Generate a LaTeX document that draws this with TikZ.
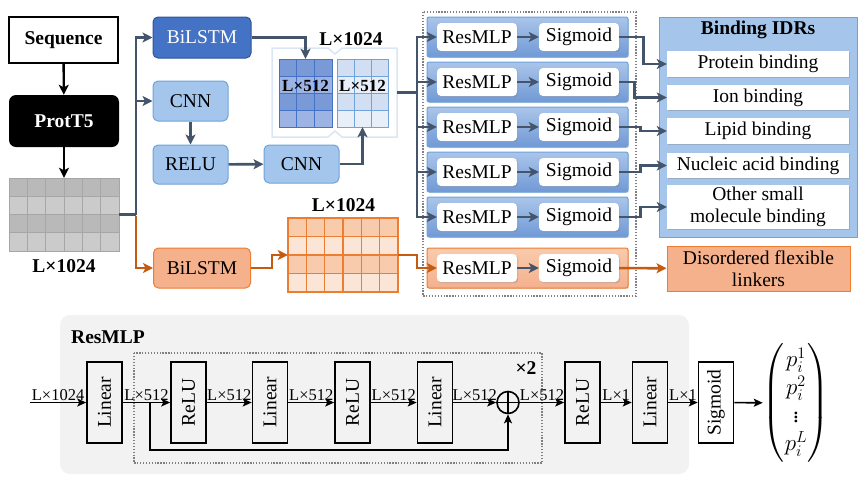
\RequirePackage{fix-cm}
\documentclass[tikz,border=0pt]{standalone}
\usepackage{fontspec}
\setmainfont{Liberation Serif}
\usepackage{amsmath}
\usetikzlibrary{arrows.meta,positioning,shadows}

\definecolor{slate}{HTML}{44546A}
\definecolor{burnt}{HTML}{C55A11}
\definecolor{bluedark}{HTML}{4472C4}
\definecolor{bluedarkline}{HTML}{2F5597}
\definecolor{bluelight}{HTML}{A4C6EC}
\definecolor{bluelightline}{HTML}{6FA3DA}
\definecolor{orangefill}{HTML}{F5B08C}
\definecolor{orangeline}{HTML}{ED7D31}
\definecolor{paneltop}{HTML}{AAC5EA}
\definecolor{panelbot}{HTML}{7099D5}
\definecolor{bindfill}{HTML}{A6C5EA}
\definecolor{gridA}{HTML}{B9B9B9}
\definecolor{gridB}{HTML}{CBCBCB}
\definecolor{gridline}{HTML}{A6A6A6}
\definecolor{dmatA}{HTML}{7A99D7}
\definecolor{dmatB}{HTML}{9CB3E3}
\definecolor{lmatA}{HTML}{D2DEF1}
\definecolor{lmatB}{HTML}{E9EFF8}
\definecolor{omatA}{HTML}{F8CBAD}
\definecolor{omatB}{HTML}{FBE5D6}
\definecolor{framecol}{HTML}{DAE6F5}
\definecolor{panelgrey}{HTML}{F2F2F2}

\tikzset{
  txt/.style={font=\fontsize{19.5}{22}\selectfont},
  bold/.style={font=\fontsize{19.5}{22}\selectfont\bfseries},
  darr/.style={line width=2.6pt, draw=slate, -{Stealth[length=10pt,width=10pt,inset=2.5pt]}},
  dline/.style={line width=2.6pt, draw=slate},
  oarr/.style={line width=2.6pt, draw=burnt, -{Stealth[length=10pt,width=10pt,inset=2.5pt]}},
  oline/.style={line width=2.6pt, draw=burnt},
  karr/.style={line width=2.4pt, draw=black, -{Stealth[length=10pt,width=10pt,inset=2.5pt]}},
  barr/.style={line width=1.6pt, draw=black, -{Stealth[length=9pt,width=8pt,inset=2pt]}},
  softbox/.style={txt, rounded corners=5pt, inner sep=0, line width=1pt,
    fill=bluelight, draw=bluelightline},
  whitebox/.style={txt, rounded corners=4pt, inner sep=0, fill=white,
    minimum width=80, minimum height=28,
    drop shadow={shadow xshift=1.2pt, shadow yshift=-1.2pt, opacity=.35}},
  rowpanel/.style={rounded corners=2pt, line width=1pt, draw=bluelightline,
    top color=paneltop, bottom color=panelbot, minimum width=201, minimum height=40,
    drop shadow={shadow xshift=1pt, shadow yshift=-1pt, opacity=.25}},
  labbox/.style={txt, fill=white, inner sep=0, minimum width=182, align=center,
    drop shadow={shadow xshift=1.2pt, shadow yshift=-1.2pt, opacity=.35}},
  vbox/.style={txt, draw, line width=1.6pt, rotate=90, minimum width=81,
    minimum height=35, inner sep=0},
  dimlab/.style={above, inner sep=1.5pt, font=\fontsize{16.5}{18}\selectfont},
  dotbox/.style={draw=gray, line width=1.3pt, dash pattern=on 1.3pt off 1.6pt},
}

\begin{document}
\begin{tikzpicture}[x=1pt, y=-1pt]
  \useasboundingbox (0,0) rectangle (866,483);

  % ---- input side
  \node[bold, draw, line width=1.6pt, fill=white, minimum width=109, minimum height=46, inner sep=0] (seq) at (63.5,40) {Sequence};
  \node[bold, text=white, fill=black, rounded corners=7pt, minimum width=110, minimum height=52, inner sep=0] (prot) at (64,121) {ProtT5};
  \node[minimum width=110, minimum height=73, inner sep=0] (emb) at (64,214.5) {};
  \foreach \r/\col in {0/gridA,1/gridB,2/gridA,3/gridB}
    \foreach \c in {0,...,5}
      \filldraw[fill=\col, draw=gridline, line width=1pt] (9+\c*18.333,178+\r*18.25) rectangle ++(18.333,18.25);
  \node[bold, below=5pt of emb] (embl) {L×1024};
  \draw[karr] (seq) -- (prot);
  \draw[karr] (prot) -- (emb);

  % ---- three branches
  \node[txt, text=white, fill=bluedark, draw=bluedarkline, line width=1pt, rounded corners=5pt, minimum width=98, minimum height=41, inner sep=0] (bilstm) at (202,37.5) {BiLSTM};
  \node[softbox, minimum width=75, minimum height=40] (cnn1) at (190.5,101) {CNN};
  \node[softbox, minimum width=75, minimum height=39] (relu) at (190.5,164.5) {RELU};
  \node[softbox, minimum width=75, minimum height=38] (cnn2) at (301.5,164) {CNN};
  \node[txt, fill=orangefill, draw=orangeline, line width=1pt, rounded corners=5pt, minimum width=97, minimum height=40, inner sep=0] (obilstm) at (202,268) {BiLSTM};

  \coordinate (split) at (136,214.5);
  \draw[dline] (emb) -- (split);
  \draw[darr] (split) |- (bilstm);
  \draw[darr] (split) |- (cnn1);
  \draw[oarr] ([yshift=-1.3pt]split) |- (obilstm);
  \draw[darr] (cnn1) -- (relu);
  \draw[darr] (relu) -- (cnn2);

  % ---- concatenated features
  \draw[draw=framecol, line width=1.5pt, fill=white] (272,48) -- (328,48) -- (335,54) -- (342,48) -- (397,48)
    -- (397,137) -- (342,137) -- (335,131) -- (328,137) -- (272,137) -- cycle;
  \node[minimum width=125, minimum height=89, inner sep=0] (frame) at (334.5,92.5) {};
  \node[minimum width=53, minimum height=68, inner sep=0] (dmat) at (305.5,93) {};
  \node[minimum width=51, minimum height=68, inner sep=0] (lmat) at (362.5,93) {};
  \foreach \r/\col in {0/dmatA,1/dmatB,2/dmatA,3/dmatB}
    \foreach \c in {0,1,2}
      \filldraw[fill=\col, draw=bluedark, line width=1pt] (279+\c*17.667,59+\r*17) rectangle ++(17.667,17);
  \foreach \r/\col in {0/lmatA,1/lmatB,2/lmatA,3/lmatB}
    \foreach \c in {0,1,2}
      \filldraw[fill=\col, draw=bluelightline, line width=1pt] (337+\c*17,59+\r*17) rectangle ++(17,17);
  \node[font=\fontsize{17}{20}\selectfont\bfseries] (dlab) at (305.5,85.5) {L×512};
  \node[font=\fontsize{17}{20}\selectfont\bfseries] (llab) at (362.5,85.5) {L×512};
  \node[bold] (catl) at (351,39) {L×1024};
  \draw[darr] (bilstm) -| (dmat.north);
  \draw[darr] (cnn2) -| (lmat.south);

  % ---- orange feature map
  \node[minimum width=110, minimum height=74, inner sep=0] (omat) at (343,255) {};
  \foreach \r/\col in {0/omatA,1/omatB,2/omatA,3/omatB}
    \foreach \c in {0,...,5}
      \filldraw[fill=\col, draw=orangeline, line width=1.6pt] (288+\c*18.333,218+\r*18.5) rectangle ++(18.333,18.5);
  \node[bold] (omatl) at (343.5,205) {L×1024};
  \draw[oarr] (obilstm) -- (272,268) |- (omat.west);

  % ---- prediction heads
  \draw[dotbox] (423,12) rectangle (636,296);
  \coordinate (split2) at (417,92.5);
  \draw[dline] (frame) -- (split2);
  \foreach \i/\y in {1/37,2/82,3/127,4/172,5/217} {
    \node[rowpanel] (row\i) at (527.5,\y) {};
    \node[whitebox] (res\i) at (477,\y) {ResMLP};
    \node[whitebox] (sig\i) at (579,\y) {Sigmoid};
    \draw[darr] (res\i) -- (sig\i);
    \draw[darr] (split2) |- (res\i);
  }
  \node[rowpanel, top color=omatA, bottom color=orangefill, draw=orangeline] (row6) at (527.5,268) {};
  \node[whitebox] (res6) at (477,268) {ResMLP};
  \node[whitebox] (sig6) at (579,268) {Sigmoid};
  \draw[darr] (res6) -- (sig6);
  \draw[oarr] (omat) -- (417,255) |- (res6);

  % ---- outputs
  \node[fill=bindfill, draw=bluelightline, line width=1pt, minimum width=198, minimum height=220, inner sep=0] (bind) at (758,127) {};
  \node[bold] (bindt) at (758,30) {Binding IDRs};
  \node[labbox, minimum height=26] (lab1) at (758,64) {Protein binding};
  \node[labbox, minimum height=25] (lab2) at (758,97.5) {Ion binding};
  \node[labbox, minimum height=26] (lab3) at (758,131) {Lipid binding};
  \node[labbox, minimum height=25] (lab4) at (758,165.5) {Nucleic acid binding};
  \node[labbox, minimum height=44] (lab5) at (758,207) {Other small\\molecule binding};
  \node[txt, fill=orangefill, draw=orangeline, line width=1pt, minimum width=183, minimum height=45, inner sep=0, align=center] (link) at (758.5,268.5) {Disordered flexible\\linkers};
  \foreach \i/\dx in {1/24,2/15,3/21,4/21,5/21}
    \draw[darr] (sig\i.east) -- ++(\dx,0) |- (lab\i);
  \draw[oarr] (sig6) -- (link);

  % ---- ResMLP block
  \fill[panelgrey, rounded corners=10pt] (60,315) rectangle (689,474);
  \node[bold] (restitle) at (108,337) {ResMLP};
  \draw[dotbox] (134,353) rectangle (542,463);
  \node[bold] (rep) at (526,368) {×2};

  \node[vbox] (lin1) at (104.5,402.5) {Linear};
  \node[vbox] (relu1) at (188.5,402.5) {ReLU};
  \node[vbox] (lin2) at (270,402.5) {Linear};
  \node[vbox] (relu2) at (352.5,402.5) {ReLU};
  \node[vbox] (lin3) at (435,402.5) {Linear};
  \node[circle, draw, line width=1.6pt, minimum size=22, inner sep=0] (plus) at (508,402.5) {};
  \draw[line width=1.6pt] (plus.north) -- (plus.south) (plus.west) -- (plus.east);
  \node[vbox] (relu3) at (582.5,402.5) {ReLU};
  \node[vbox] (lin4) at (650,402.5) {Linear};
  \node[vbox] (sigb) at (716,402.5) {Sigmoid};
  \node[inner sep=0] (vec) at (796,403) {\fontsize{23}{28}\selectfont$\begin{pmatrix}p_i^1\\ p_i^2\\ \vdots\\ p_i^L\end{pmatrix}$};

  \coordinate (in) at (30,402.5);
  \coordinate (skip) at (150,402.5);
  \draw[barr] (in) -- node[dimlab] {L×1024} (lin1);
  \draw[barr] (lin1) -- node[dimlab] {L×512} (relu1);
  \draw[barr] (relu1) -- node[dimlab] {L×512} (lin2);
  \draw[barr] (lin2) -- node[dimlab] {L×512} (relu2);
  \draw[barr] (relu2) -- node[dimlab] {L×512} (lin3);
  \draw[barr] (lin3) -- node[dimlab] {L×512} (plus);
  \draw[barr] (plus) -- node[dimlab] {L×512} (relu3);
  \draw[barr] (relu3) -- node[dimlab] {L×1} (lin4);
  \draw[barr] (lin4) -- node[dimlab] {L×1} (sigb);
  \draw[barr] (sigb) -- (vec);
  \draw[barr] (skip) -- (150,450) -| (plus);
\end{tikzpicture}
\end{document}
